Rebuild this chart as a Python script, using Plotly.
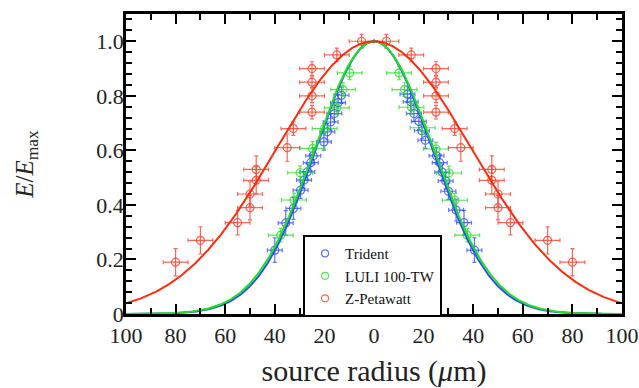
import numpy as np
import plotly.graph_objects as go

# ---- measured source profiles ----
# Trident
trident_r = [-40.0, -35.6, -32.5, -29.6, -28.2, -26.9, -25.5, -24.5, -20.2, -18.8, -17.5, -16.0, -14.5, -13.1,
             13.5, 14.8, 16.1, 18.1, 19.3, 20.7, 25.2, 26.5, 27.5, 28.9, 30.0, 33.1, 36.3, 40.5]
trident_e = [0.234, 0.334, 0.387, 0.454, 0.491, 0.521, 0.555, 0.580, 0.631, 0.668, 0.704, 0.735, 0.775, 0.802,
             0.806, 0.778, 0.735, 0.706, 0.672, 0.637, 0.580, 0.555, 0.520, 0.488, 0.450, 0.381, 0.335, 0.234]
trident_rerr = [3.0] * len(trident_r)
trident_eerr = [0.045, 0.045, 0.04, 0.03, 0.03, 0.03, 0.03, 0.03, 0.03, 0.03, 0.03, 0.03, 0.03, 0.03,
                0.03, 0.03, 0.03, 0.03, 0.03, 0.03, 0.03, 0.03, 0.03, 0.03, 0.03, 0.04, 0.045, 0.045]

# LULI 100-TW
luli_r = [-37.6, -32.3, -29.8, -24.8, -19.9, -15.0, -12.5, -9.8,
          10.1, 12.3, 15.1, 19.6, 25.0, 30.2, 32.6, 37.6]
luli_e = [0.289, 0.418, 0.518, 0.607, 0.680, 0.756, 0.823, 0.884,
          0.884, 0.823, 0.758, 0.683, 0.605, 0.517, 0.417, 0.289]
luli_rerr = [5.0] * len(luli_r)
luli_eerr = [0.025] * len(luli_r)

# Z-Petawatt
zpw_r = [-80, -70, -55, -50, -50, -47.5, -47.5, -35, -32.5, -25, -25, -25, -25, -15, -5,
         5, 15, 25, 25, 25, 25, 32.5, 35, 47.5, 47.5, 50, 50, 55, 70, 80]
zpw_e = [0.19, 0.27, 0.335, 0.39, 0.44, 0.49, 0.53, 0.61, 0.68, 0.74, 0.80, 0.85, 0.90, 0.95, 1.00,
         1.00, 0.95, 0.90, 0.85, 0.80, 0.74, 0.68, 0.61, 0.53, 0.49, 0.44, 0.39, 0.335, 0.27, 0.19]
zpw_rerr = [5.0] * len(zpw_r)
zpw_eerr = [0.05, 0.05, 0.045, 0.045, 0.045, 0.05, 0.05, 0.05, 0.025, 0.025, 0.025, 0.02, 0.025, 0.025, 0.025,
            0.025, 0.025, 0.025, 0.02, 0.025, 0.025, 0.025, 0.05, 0.05, 0.05, 0.045, 0.045, 0.045, 0.05, 0.05]

# Gaussian fit widths (sigma, um)
fit_sigma = {"Trident": 23.4, "LULI 100-TW": 23.9, "Z-Petawatt": 39.3}

# axis ticks
x_tickvals = [-100, -80, -60, -40, -20, 0, 20, 40, 60, 80, 100]
x_ticktext = ["100", "80", "60", "40", "20", "0", "20", "40", "60", "80", "100"]
y_tickvals = [0, 0.2, 0.4, 0.6, 0.8, 1.0]
y_ticktext = ["0", "0.2", "0.4", "0.6", "0.8", "1.0"]

series = [
    ("Trident", trident_r, trident_e, trident_rerr, trident_eerr, "#2a4dff", "rgba(40,70,255,0.75)"),
    ("LULI 100-TW", luli_r, luli_e, luli_rerr, luli_eerr, "#1fe01f", "rgba(30,220,30,0.75)"),
    ("Z-Petawatt", zpw_r, zpw_e, zpw_rerr, zpw_eerr, "#ff2a10", "rgba(255,50,30,0.75)"),
]

FONT = "Liberation Serif, Times New Roman, serif"
fig = go.Figure()

r_fine = np.linspace(-100, 100, 801)
for name, r, e, rerr, eerr, lcol, pcol in series:
    fig.add_trace(go.Scatter(
        x=r, y=e, mode="markers", showlegend=False,
        marker=dict(symbol="circle-open", size=8, color=pcol, line=dict(width=1.2, color=pcol)),
        error_x=dict(type="data", array=rerr, color=pcol, thickness=1.2, width=2),
        error_y=dict(type="data", array=eerr, color=pcol, thickness=1.2, width=2),
    ))

for name, r, e, rerr, eerr, lcol, pcol in series:
    s = fit_sigma[name]
    fig.add_trace(go.Scatter(
        x=r_fine, y=np.exp(-r_fine ** 2 / (2 * s ** 2)), mode="lines",
        line=dict(color=lcol, width=2), showlegend=False, hoverinfo="skip",
    ))

# legend entries: open circles only
for name, r, e, rerr, eerr, lcol, pcol in series:
    fig.add_trace(go.Scatter(
        x=[None], y=[None], mode="markers", name=name,
        marker=dict(symbol="circle-open", size=7, color=pcol, line=dict(width=1.2, color=pcol)),
    ))

axis_common = dict(
    showline=True, linecolor="black", linewidth=2.5, mirror="ticks",
    ticks="inside", ticklen=10, tickwidth=2, tickcolor="black",
    showgrid=False, zeroline=False, automargin=False,
    tickfont=dict(family=FONT, size=22, color="#222"),
)

fig.update_xaxes(
    range=[-100, 100], tickvals=x_tickvals, ticktext=x_ticktext, ticklabelstandoff=0,
    minor=dict(dtick=10, tick0=0, ticks="inside", ticklen=6, tickwidth=2, tickcolor="black"),
    title=dict(text="source radius (<i>μ</i>m)", font=dict(family=FONT, size=30, color="#222"), standoff=14),
    **axis_common,
)
fig.update_yaxes(
    range=[0, 1.1], tickvals=y_tickvals, ticktext=y_ticktext, ticklabelstandoff=-5,
    minor=dict(dtick=0.04, tick0=0, ticks="inside", ticklen=6, tickwidth=2, tickcolor="black"),
    title=dict(text="<i>E</i>/<i>E</i><sub>max</sub>", font=dict(family=FONT, size=25, color="#222"), standoff=56),
    **axis_common,
)

fig.update_layout(
    width=639, height=388,
    margin=dict(l=126, r=17, t=14, b=74),
    font=dict(family=FONT, size=15, color="#111"),
    plot_bgcolor="white", paper_bgcolor="white",
    legend=dict(
        x=0.357, y=0.263, xanchor="left", yanchor="top",
        bgcolor="white", bordercolor="black", borderwidth=2,
        font=dict(family=FONT, size=15, color="#111"),
        itemwidth=30, tracegroupgap=0,
    ),
)

fig.write_html("out.html")
